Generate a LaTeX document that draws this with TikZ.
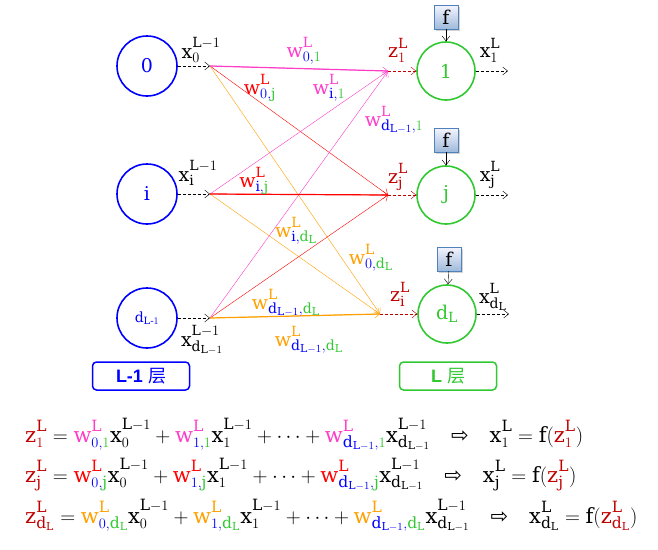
\documentclass[tikz,border=0pt]{standalone}
\usepackage{amsmath}
\usepackage{fontspec}
\setmainfont{DejaVu Serif}
\DeclareMathSizes{19}{19}{14}{11}
\DeclareMathSizes{21}{21}{15.5}{11}
\DeclareMathSizes{14}{14}{10}{8}
\usetikzlibrary{arrows.meta,shadows}
\newfontfamily\cjk{Noto Sans CJK SC}
\newfontfamily\symf{DejaVu Sans}
\newfontfamily\labf{Liberation Sans}
\definecolor{wpink}{RGB}{255,60,200}
\definecolor{wred}{RGB}{255,0,0}
\definecolor{worange}{RGB}{255,160,0}
\definecolor{zred}{RGB}{192,0,0}
\definecolor{sblue}{RGB}{0,0,255}
\definecolor{sgreen}{RGB}{50,200,50}
\definecolor{fblue}{RGB}{79,129,189}
% weight, layer variable, input, output
\newcommand{\wl}[3]{\textcolor{#1}{\mathrm{w}^{\mathrm{L}}_{\textcolor{sblue}{#2,}\textcolor{sgreen}{#3}}}}
\newcommand{\zl}[1]{\textcolor{zred}{\mathrm{z}^{\mathrm{L}}_{#1}}}
\newcommand{\xv}[2]{\mathrm{x}^{#2}_{#1}}
\newcommand{\Lm}{\mathrm{L}-1}
\newcommand{\dm}{\mathrm{d}_{\mathrm{L}-1}}
\newcommand{\dL}{\mathrm{d}_{\mathrm{L}}}
\newcommand{\imp}{\quad\text{\symf ⇨}\quad}

\begin{document}
\begin{tikzpicture}[x=1pt,y=-1pt,>={Straight Barb[length=5pt,width=8pt]},
  font=\fontsize{19}{22}\selectfont,
  lnode/.style={circle,draw=blue,line width=1.6pt,minimum size=60pt,inner sep=0pt,text=blue},
  rnode/.style={circle,draw=sgreen,line width=1.6pt,minimum size=58pt,inner sep=0pt,text=sgreen},
  fbox/.style={draw=fblue,top color=blue!4,bottom color=fblue!55,minimum size=24pt,inner sep=0pt,
    drop shadow={opacity=0.35,shadow xshift=1.5pt,shadow yshift=-1.5pt}},
  dline/.style={dashed,dash pattern=on 3pt off 2pt,->},
  layer/.style={rounded corners=4pt,line width=1.5pt,minimum width=97pt,minimum height=28pt,
    font=\labf\bfseries\fontsize{18}{20}\selectfont},
  eqn/.style={anchor=base west,inner sep=0pt,font=\fontsize{21}{24}\selectfont}]
  \useasboundingbox (0,0) rectangle (658,549);
  % L-1 layer
  \node[lnode] (n0) at (147,66) {$\mathrm{0}$};
  \node[lnode] (ni) at (147,194) {$\mathrm{i}$};
  \node[lnode] (nd) at (147,318) {\fontsize{14}{16}\selectfont$\mathrm{d}_{\mathrm{L}\text{-}1}$};
  \coordinate (a0) at (210,66); \coordinate (ai) at (210,194); \coordinate (ad) at (210,318);
  \draw[dline] (n0.east) -- (a0); \draw[dline] (ni.east) -- (ai); \draw[dline] (nd.east) -- (ad);
  \node (x0) at (201,50) {$\xv{0}{\Lm}$};
  \node (xi) at (198,173) {$\xv{\mathrm{i}}{\Lm}$};
  \node (xd) at (202,340) {$\xv{\dm}{\Lm}$};
  % L layer
  \node[rnode] (m1) at (446,71) {$\mathrm{1}$};
  \node[rnode] (mj) at (446,195) {$\mathrm{j}$};
  \node[rnode] (md) at (447,314) {$\dL$};
  \coordinate (b1) at (388,71); \coordinate (bj) at (388,195); \coordinate (bd) at (380,314);
  \draw[dline,zred] (b1) -- (m1); \draw[dline,zred] (bj) -- (mj); \draw[dline,zred] (bd) -- (md);
  \node (z1) at (398,50) {$\zl{1}$};
  \node (zj) at (398,177) {$\zl{\mathrm{j}}$};
  \node (zd) at (400,294) {$\zl{\mathrm{i}}$};
  \coordinate (o1) at (508,71); \coordinate (oj) at (508,195); \coordinate (od) at (509,314);
  \draw[dline] (m1) -- (o1); \draw[dline] (mj) -- (oj); \draw[dline] (md) -- (od);
  \node (y1) at (490,50) {$\xv{1}{\mathrm{L}}$};
  \node (yj) at (490,175) {$\xv{\mathrm{j}}{\mathrm{L}}$};
  \node (yd) at (493,297) {$\xv{\dL}{\mathrm{L}}$};
  % activation
  \node[fbox] (f1) at (446,17) {$\mathrm{f}$};
  \node[fbox] (fj) at (446,140) {$\mathrm{f}$};
  \node[fbox] (fd) at (449,259) {$\mathrm{f}$};
  \draw[->] (f1) -- (m1); \draw[->] (fj) -- (mj); \draw[->] (fd) -- (md);
  % weights
  \foreach \s in {a0,ai,ad} {
    \draw[wpink,->] (\s) -- (b1);
    \draw[wred,->] (\s) -- (bj);
    \draw[worange,->] (\s) -- (bd);
  }
  \draw[wpink,line width=1.2pt] (a0) -- (b1);
  \draw[wred,line width=1.2pt] (ai) -- (bj);
  \draw[worange,line width=1.2pt] (ad) -- (bd);
  \node (w01) at (304,51) {$\wl{wpink}{0}{1}$};
  \node (w0j) at (260,88) {$\wl{wred}{0}{\mathrm{j}}$};
  \node (wi1) at (329,88) {$\wl{wpink}{\mathrm{i}}{1}$};
  \node (wd1) at (394,120) {$\wl{wpink}{\dm}{1}$};
  \node (wij) at (254,181) {$\wl{wred}{\mathrm{i}}{\mathrm{j}}$};
  \node (wid) at (296,231) {$\wl{worange}{\mathrm{i}}{\dL}$};
  \node (w0d) at (371,258) {$\wl{worange}{0}{\dL}$};
  \node (wdd) at (286,303) {$\wl{worange}{\dm}{\dL}$};
  \node (wde) at (309,340) {$\wl{worange}{\dm}{\dL}$};
  % layer names
  \node[layer,draw=blue,text=blue] (lay1) at (141,376) {L-1 {\cjk\mdseries 层}};
  \node[layer,draw=sgreen,text=sgreen] (lay2) at (448,376) {L {\cjk\mdseries 层}};
  % equations
  \node[eqn] (e1) at (25,442)
    {$\zl{1}=\wl{wpink}{0}{1}\xv{0}{\Lm}+\wl{wpink}{1}{1}\xv{1}{\Lm}+\cdots+\wl{wpink}{\dm}{1}\xv{\dm}{\Lm}\imp\xv{1}{\mathrm{L}}=\mathrm{f}(\zl{1})$};
  \node[eqn] (e2) at (25,482)
    {$\zl{\mathrm{j}}=\wl{wred}{0}{\mathrm{j}}\xv{0}{\Lm}+\wl{wred}{1}{\mathrm{j}}\xv{1}{\Lm}+\cdots+\wl{wred}{\dm}{\mathrm{j}}\xv{\dm}{\Lm}\imp\xv{\mathrm{j}}{\mathrm{L}}=\mathrm{f}(\zl{\mathrm{j}})$};
  \node[eqn] (e3) at (25,523)
    {$\zl{\dL}=\wl{worange}{0}{\dL}\xv{0}{\Lm}+\wl{worange}{1}{\dL}\xv{1}{\Lm}+\cdots+\wl{worange}{\dm}{\dL}\xv{\dm}{\Lm}\imp\xv{\dL}{\mathrm{L}}=\mathrm{f}(\zl{\dL})$};
\end{tikzpicture}
\end{document}
